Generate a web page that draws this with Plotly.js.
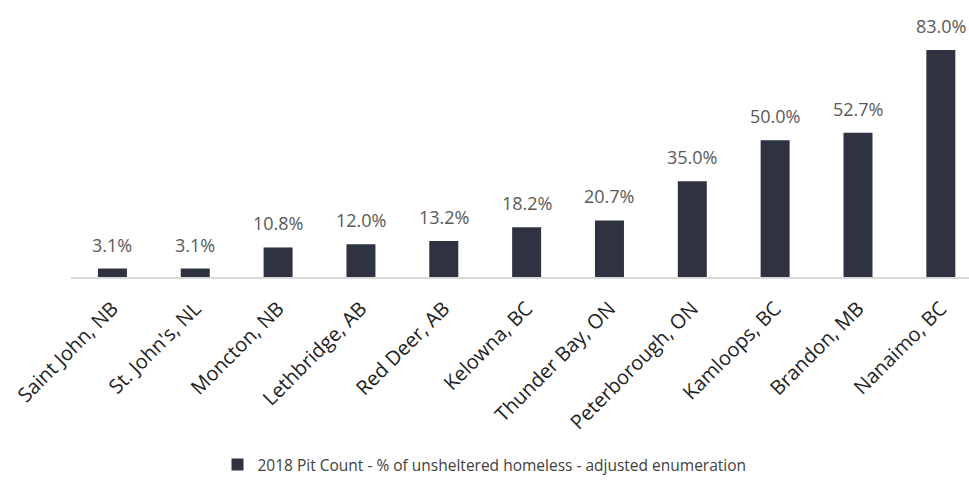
<!DOCTYPE html>
<html>
<head>
<meta charset="utf-8">
<script src="https://cdn.plot.ly/plotly-3.0.1.min.js"></script>
<style>html,body{margin:0;padding:0;background:#fff;}#chart{width:969px;height:489px;}</style>
</head>
<body>
<div id="chart"></div>
<script>
const cities = ["Saint John, NB", "St. John's, NL", "Moncton, NB", "Lethbridge, AB", "Red Deer, AB", "Kelowna, BC", "Thunder Bay, ON", "Peterborough, ON", "Kamloops, BC", "Brandon, MB", "Nanaimo, BC"];
const unshelteredPct = [3.1, 3.1, 10.8, 12.0, 13.2, 18.2, 20.7, 35.0, 50.0, 52.7, 83.0];
const seriesName = "2018 Pit Count - % of unsheltered homeless - adjusted enumeration";

const FONT = "Open Sans, Lato, sans-serif";
const trace = {
  type: "bar",
  x: cities,
  y: unshelteredPct,
  name: seriesName,
  marker: {color: "#2f3241"},
  hoverinfo: "skip"
};
const annotations = cities.map((c, i) => ({
  x: c, y: unshelteredPct[i], xref: "x", yref: "y",
  text: unshelteredPct[i].toFixed(1) + "%",
  showarrow: false, yanchor: "bottom", yshift: 10,
  font: {family: FONT, size: 18, color: "#595959"}
}));
const layout = {
  width: 969, height: 489,
  margin: {l: 71, r: 0, t: 20, b: 212},
  paper_bgcolor: "#fff", plot_bgcolor: "#fff",
  bargap: 0.65,
  showlegend: true,
  annotations: annotations,
  legend: {orientation: "h", xref: "container", yref: "container", x: 0.5, xanchor: "center", y: 0.049, yanchor: "middle",
           font: {family: FONT, size: 15.5, color: "#404040"}},
  xaxis: {range: [-0.5, 10.34], tickangle: -45, showgrid: false, zeroline: false, showline: true, linecolor: "#d9d9d9", linewidth: 2,
          ticks: "", ticklabelstandoff: 10, tickfont: {family: FONT, size: 20, color: "#222"}, fixedrange: true},
  yaxis: {range: [0, 93.97], visible: false, showgrid: false, zeroline: false, fixedrange: true}
};
Plotly.newPlot("chart", [trace], layout, {displayModeBar: false, staticPlot: true});
</script>
</body>
</html>
